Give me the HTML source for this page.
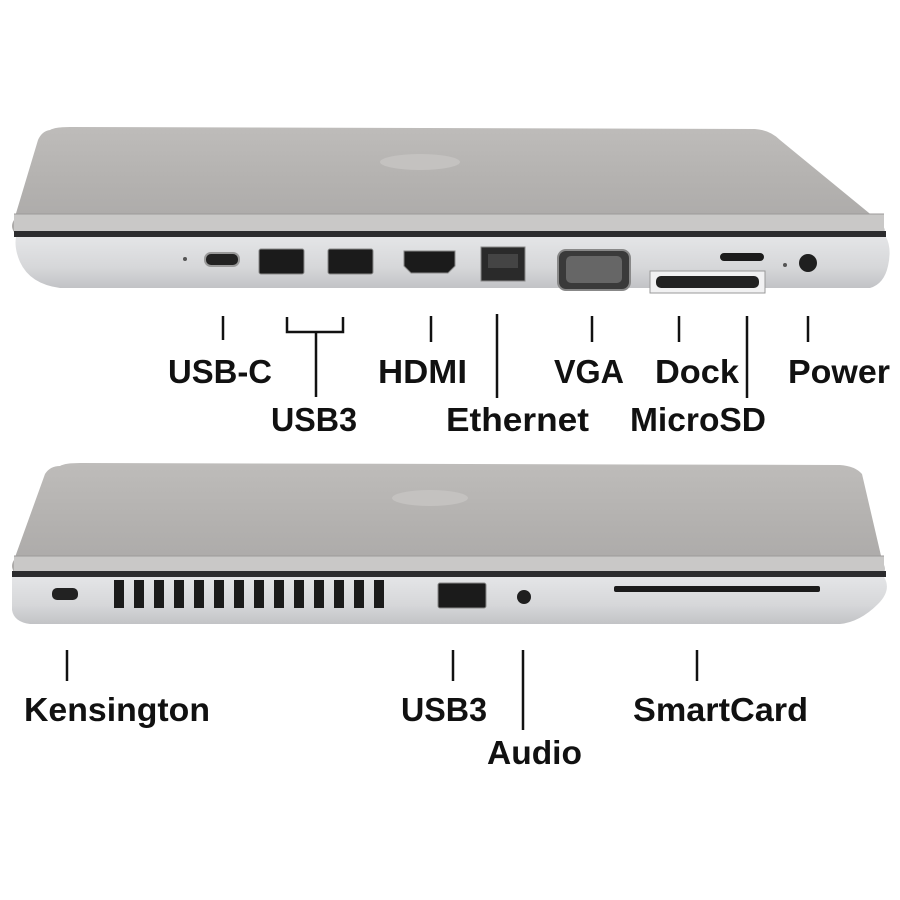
<!DOCTYPE html>
<html><head><style>html,body{margin:0;padding:0;background:#fff}svg{display:block}text{font-family:"Liberation Sans",sans-serif;font-weight:bold;font-size:33px;fill:#111}</style></head><body>
<svg width="900" height="900" viewBox="0 0 900 900" xmlns="http://www.w3.org/2000/svg">
<defs>
<linearGradient id="lid" x1="0" y1="0" x2="0" y2="1"><stop offset="0" stop-color="#bebcba"/><stop offset="0.5" stop-color="#b4b2b0"/><stop offset="1" stop-color="#aba9a8"/></linearGradient>
<linearGradient id="base" x1="0" y1="0" x2="0" y2="1"><stop offset="0" stop-color="#e4e5e7"/><stop offset="0.6" stop-color="#d6d7d9"/><stop offset="1" stop-color="#c2c3c6"/></linearGradient>
</defs>
<!-- TOP LAPTOP -->
<path d="M50,130 Q55,127 70,127 L755,129 Q770,130 780,140 L880,222 Q886,228 884,232 L14,232 Q10,226 14,220 L38,140 Q42,131 50,130 Z" fill="url(#lid)"/>
<ellipse cx="420" cy="162" rx="40" ry="8" fill="#c4c2c0"/>
<path d="M14,214 L884,214 L884,232 L14,232 Z" fill="#c9c8c7"/>
<line x1="14" y1="214" x2="884" y2="214" stroke="#9c9a99" stroke-width="1"/>
<rect x="14" y="231" width="872" height="6" fill="#2c2c2e"/>
<path d="M16,237 L886,237 Q892,248 888,266 Q884,284 870,288 L60,288 Q30,284 20,262 Q14,248 16,237 Z" fill="url(#base)"/>
<rect x="205" y="253" width="34" height="13" rx="6" fill="#222" stroke="#999" stroke-width="2"/>
<circle cx="185" cy="259" r="2" fill="#555"/>
<rect x="259" y="249" width="45" height="25" rx="2" fill="#1b1b1b" stroke="#888"/>
<rect x="328" y="249" width="45" height="25" rx="2" fill="#1b1b1b" stroke="#888"/>
<path d="M404,251 L455,251 L455,266 L448,273 L411,273 L404,266 Z" fill="#1b1b1b" stroke="#888"/>
<rect x="481" y="247" width="44" height="34" fill="#2a2a2a" stroke="#888"/>
<rect x="488" y="254" width="30" height="14" fill="#444"/>
<rect x="558" y="250" width="72" height="40" rx="8" fill="#3a3a3a" stroke="#888" stroke-width="2"/>
<rect x="566" y="256" width="56" height="27" rx="5" fill="#666"/>
<path d="M650,271 L765,271 L765,293 L650,293 Z" fill="#f1f1f2" stroke="#999"/>
<rect x="656" y="276" width="103" height="12" rx="5" fill="#222"/>
<rect x="720" y="253" width="44" height="8" rx="4" fill="#1b1b1b"/>
<circle cx="785" cy="265" r="2" fill="#555"/>
<circle cx="808" cy="263" r="9" fill="#1f1f1f"/>
<g stroke="#111" stroke-width="2.5" fill="none">
<line x1="223" y1="316" x2="223" y2="340"/>
<path d="M287,317 L287,332 L343,332 L343,317"/>
<line x1="316" y1="332" x2="316" y2="397"/>
<line x1="431" y1="316" x2="431" y2="342"/>
<line x1="497" y1="314" x2="497" y2="398"/>
<line x1="592" y1="316" x2="592" y2="342"/>
<line x1="679" y1="316" x2="679" y2="342"/>
<line x1="747" y1="316" x2="747" y2="398"/>
<line x1="808" y1="316" x2="808" y2="342"/>
</g>
<text x="168" y="383" textLength="104" lengthAdjust="spacingAndGlyphs">USB-C</text>
<text x="271" y="431" textLength="86" lengthAdjust="spacingAndGlyphs">USB3</text>
<text x="378" y="383" textLength="89" lengthAdjust="spacingAndGlyphs">HDMI</text>
<text x="446" y="431" textLength="143" lengthAdjust="spacingAndGlyphs">Ethernet</text>
<text x="554" y="383" textLength="70" lengthAdjust="spacingAndGlyphs">VGA</text>
<text x="655" y="383" textLength="84" lengthAdjust="spacingAndGlyphs">Dock</text>
<text x="630" y="431" textLength="136" lengthAdjust="spacingAndGlyphs">MicroSD</text>
<text x="788" y="383" textLength="102" lengthAdjust="spacingAndGlyphs">Power</text>
<!-- BOTTOM LAPTOP -->
<path d="M60,466 Q65,463 80,463 L840,465 Q855,466 862,474 L882,560 Q886,568 884,572 L14,572 Q10,566 14,560 L45,474 Q50,466 60,466 Z" fill="url(#lid)"/>
<ellipse cx="430" cy="498" rx="38" ry="8" fill="#c4c2c0"/>
<path d="M14,556 L884,556 L884,572 L14,572 Z" fill="#c9c8c7"/>
<line x1="14" y1="556" x2="884" y2="556" stroke="#9c9a99"/>
<rect x="12" y="571" width="874" height="6" fill="#2c2c2e"/>
<path d="M12,577 L884,577 Q892,590 878,604 Q860,622 840,624 L30,624 Q14,622 12,610 Z" fill="url(#base)"/>
<rect x="52" y="588" width="26" height="12" rx="5" fill="#222"/>
<g fill="#1b1b1b">
<rect x="114" y="580" width="10" height="28"/><rect x="134" y="580" width="10" height="28"/><rect x="154" y="580" width="10" height="28"/><rect x="174" y="580" width="10" height="28"/><rect x="194" y="580" width="10" height="28"/><rect x="214" y="580" width="10" height="28"/><rect x="234" y="580" width="10" height="28"/><rect x="254" y="580" width="10" height="28"/><rect x="274" y="580" width="10" height="28"/><rect x="294" y="580" width="10" height="28"/><rect x="314" y="580" width="10" height="28"/><rect x="334" y="580" width="10" height="28"/><rect x="354" y="580" width="10" height="28"/><rect x="374" y="580" width="10" height="28"/>
</g>
<rect x="438" y="583" width="48" height="25" rx="2" fill="#1b1b1b" stroke="#888"/>
<circle cx="524" cy="597" r="7" fill="#1f1f1f"/>
<rect x="614" y="586" width="206" height="6" rx="2" fill="#1b1b1b"/>
<g stroke="#111" stroke-width="2.5">
<line x1="67" y1="650" x2="67" y2="681"/>
<line x1="453" y1="650" x2="453" y2="681"/>
<line x1="523" y1="650" x2="523" y2="730"/>
<line x1="697" y1="650" x2="697" y2="681"/>
</g>
<text x="24" y="721" textLength="186" lengthAdjust="spacingAndGlyphs">Kensington</text>
<text x="401" y="721" textLength="86" lengthAdjust="spacingAndGlyphs">USB3</text>
<text x="487" y="764" textLength="95" lengthAdjust="spacingAndGlyphs">Audio</text>
<text x="633" y="721" textLength="175" lengthAdjust="spacingAndGlyphs">SmartCard</text>
</svg>
</body></html>
